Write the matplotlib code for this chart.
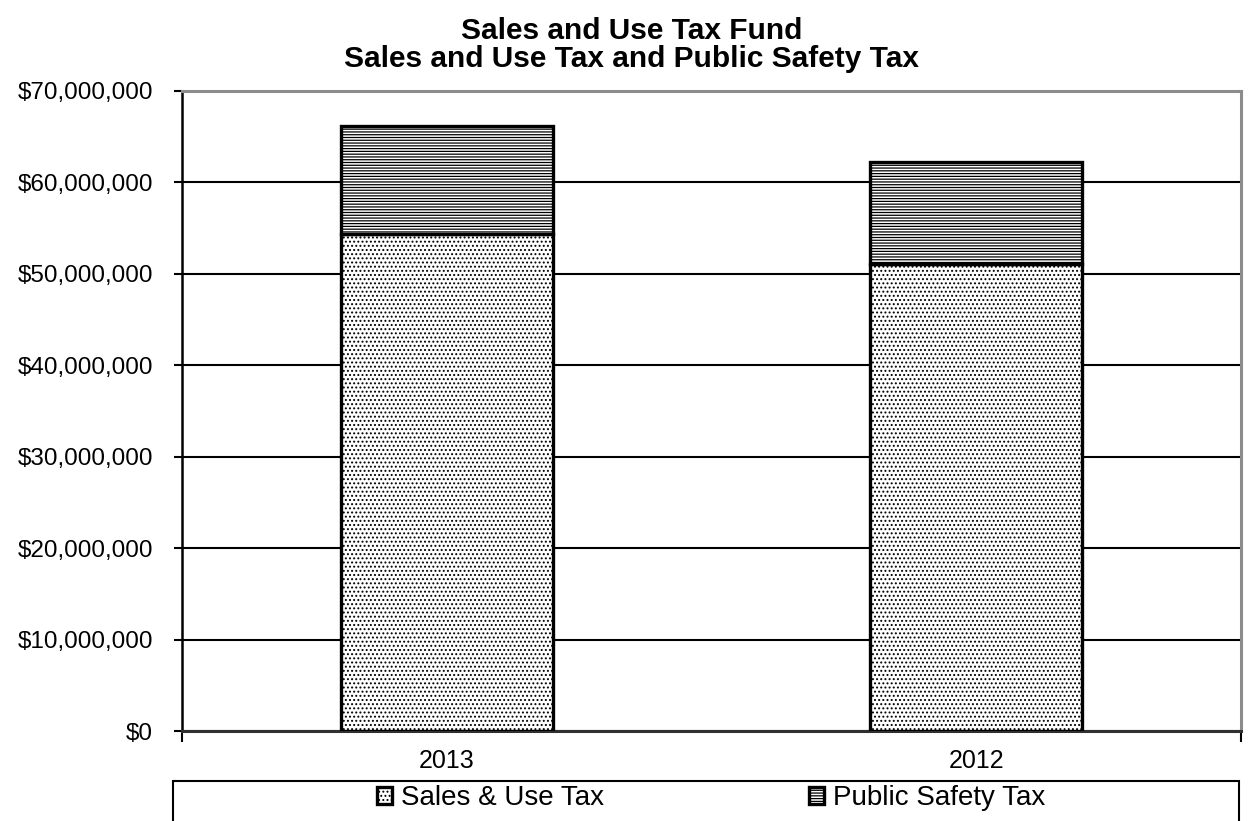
import matplotlib
matplotlib.use("Agg")
import matplotlib.pyplot as plt
from matplotlib.patches import Rectangle
from matplotlib.ticker import FuncFormatter, FixedLocator

plt.rcParams['font.family'] = ['Liberation Sans', 'DejaVu Sans']
plt.rcParams['hatch.linewidth'] = 0.9

# Data
years = ["2013", "2012"]
sales_use_tax = [54_400_000, 51_100_000]
public_safety_tax = [11_800_000, 11_100_000]
y_ticks = [0, 10_000_000, 20_000_000, 30_000_000, 40_000_000, 50_000_000, 60_000_000, 70_000_000]
series_names = ["Sales & Use Tax", "Public Safety Tax"]

W, H = 1248, 821
fig = plt.figure(figsize=(W / 100, H / 100), dpi=100)

def fx(px):
    return px / W

def fy(py):
    return (H - py) / H

ax = fig.add_axes([fx(182), fy(731), (1241 - 182) / W, (731 - 91) / H])

x = list(range(len(years)))
b1 = ax.bar(x, sales_use_tax, width=0.4, color="white", edgecolor="black",
            linewidth=2.4, hatch="....", zorder=3, label=series_names[0])
b2 = ax.bar(x, public_safety_tax, width=0.4, bottom=sales_use_tax, color="white",
            edgecolor="black", linewidth=2.4, hatch="------", zorder=3,
            label=series_names[1])

ax.set_xlim(-0.5, 1.5)
ax.set_ylim(0, 70_000_000)
ax.set_xticks(x)
ax.set_xticklabels(years, fontsize=18)
ax.xaxis.set_minor_locator(FixedLocator([-0.5, 1.5]))
ax.tick_params(axis="x", which="major", length=0, pad=13)
ax.tick_params(axis="x", which="minor", length=8, width=1.5, color="black")

ax.set_yticks(y_ticks)
ax.yaxis.set_major_formatter(FuncFormatter(lambda v, p: "${:,.0f}".format(v)))
ax.tick_params(axis="y", length=6, width=1.5, pad=15, labelsize=17.5)

ax.grid(axis="y", color="black", linewidth=1.5, zorder=1)
ax.set_axisbelow(True)

for side in ("top", "right"):
    ax.spines[side].set_color("#8c8c8c")
    ax.spines[side].set_linewidth(2.2)
ax.spines["left"].set_color("black")
ax.spines["left"].set_linewidth(1.8)
ax.spines["bottom"].set_color("#303030")
ax.spines["bottom"].set_linewidth(2.2)

# Title
fig.text(fx(632), fy(39), "Sales and Use Tax Fund", ha="center", va="baseline",
         fontsize=21.5, fontweight="bold")
fig.text(fx(632), fy(67), "Sales and Use Tax and Public Safety Tax", ha="center",
         va="baseline", fontsize=21.5, fontweight="bold")

# Legend box and entries
fig.patches.append(Rectangle((fx(173), fy(840)), (1239 - 173) / W, (840 - 781) / H,
                             transform=fig.transFigure, fill=False,
                             edgecolor="black", linewidth=1.5))
fig.legend(handles=[b1, b2], labels=series_names, ncol=2, frameon=False,
           loc="center left", bbox_to_anchor=(fx(377), fy(798)),
           bbox_transform=fig.transFigure, borderpad=0, borderaxespad=0,
           fontsize=20, handlelength=0.55, handleheight=0.55,
           handletextpad=0.3, columnspacing=7.4)

fig.savefig("out.png", dpi=100)
